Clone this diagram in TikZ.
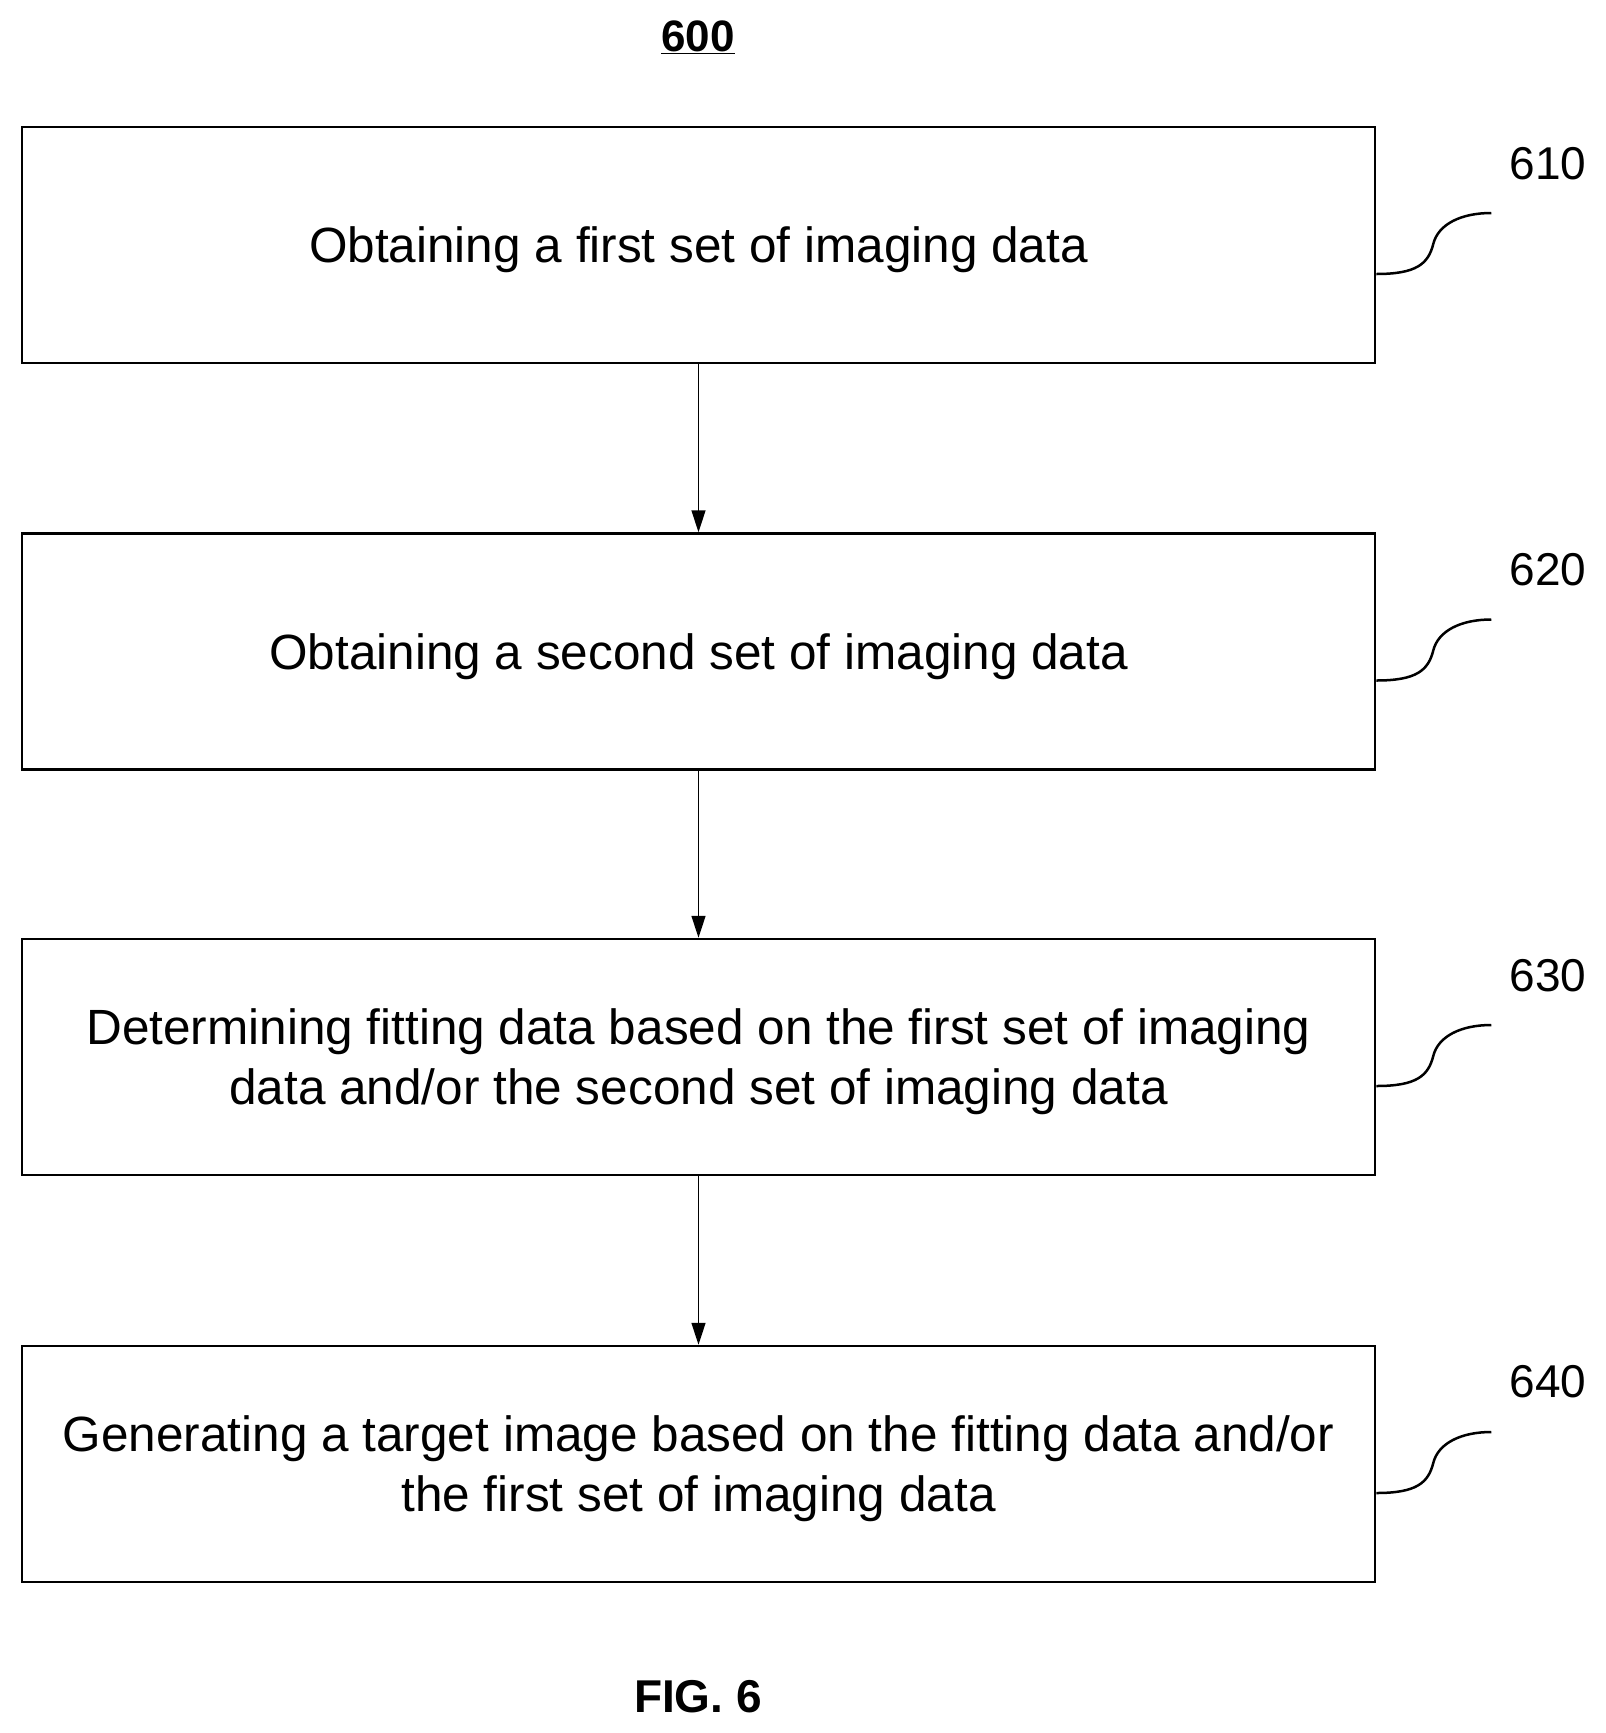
\documentclass[tikz,border=0pt]{standalone}
\usepackage{fontspec}
\setmainfont{Liberation Sans}
\usetikzlibrary{arrows.meta}
\begin{document}
\begin{tikzpicture}[x=1pt,y=-1pt,
  box/.style={draw,line width=2.5pt,minimum width=1353pt,minimum height=236pt,inner sep=0pt},
  txt/.style={inner sep=0pt,align=center,font=\fontsize{49.5}{60}\selectfont},
  lbl/.style={font=\fontsize{46}{50}\selectfont,inner sep=0pt},
  arr/.style={line width=1.5pt,-{Triangle[length=22pt,width=14pt]}},
  lead/.style={line width=2.5pt}]
\useasboundingbox (0,0) rectangle (1606,1733);
\node[font=\bfseries\fontsize{44}{50}\selectfont] (t) at (698,37) {\underline{600}};
\node[box] (b1) at (698.5,245) {};
\node[box] (b2) at (698.5,651.5) {};
\node[box] (b3) at (698.5,1057) {};
\node[box] (b4) at (698.5,1464) {};
\node[txt] (t1) at ([yshift=-5pt]b1.center) {Obtaining a first set of imaging data};
\node[txt] (t2) at ([yshift=-5pt]b2.center) {Obtaining a second set of imaging data};
\node[txt] (t3) at ([yshift=-5pt]b3.center) {Determining fitting data based on the first set of imaging\\data and/or the second set of imaging data};
\node[txt] (t4) at ([yshift=-5pt]b4.center) {Generating a target image based on the fitting data and/or\\the first set of imaging data};
\foreach \i/\n in {1/610,2/620,3/630,4/640}{
  \node[lbl] (l\i) at (1548,164+406*\i-406) {\n};
  \coordinate (s\i) at ([yshift=-29pt]b\i.east);
  \draw[lead] (s\i) .. controls +(40,0) and +(-5,20) .. ++(57,-30) .. controls +(5,-20) and +(-30,0) .. ++(58,-31);
}
\draw[arr] (b1) -- (b2);
\draw[arr] (b2) -- (b3);
\draw[arr] (b3) -- (b4);
\node[font=\bfseries\fontsize{46}{50}\selectfont] (f) at (698,1697) {FIG. 6};
\end{tikzpicture}
\end{document}
